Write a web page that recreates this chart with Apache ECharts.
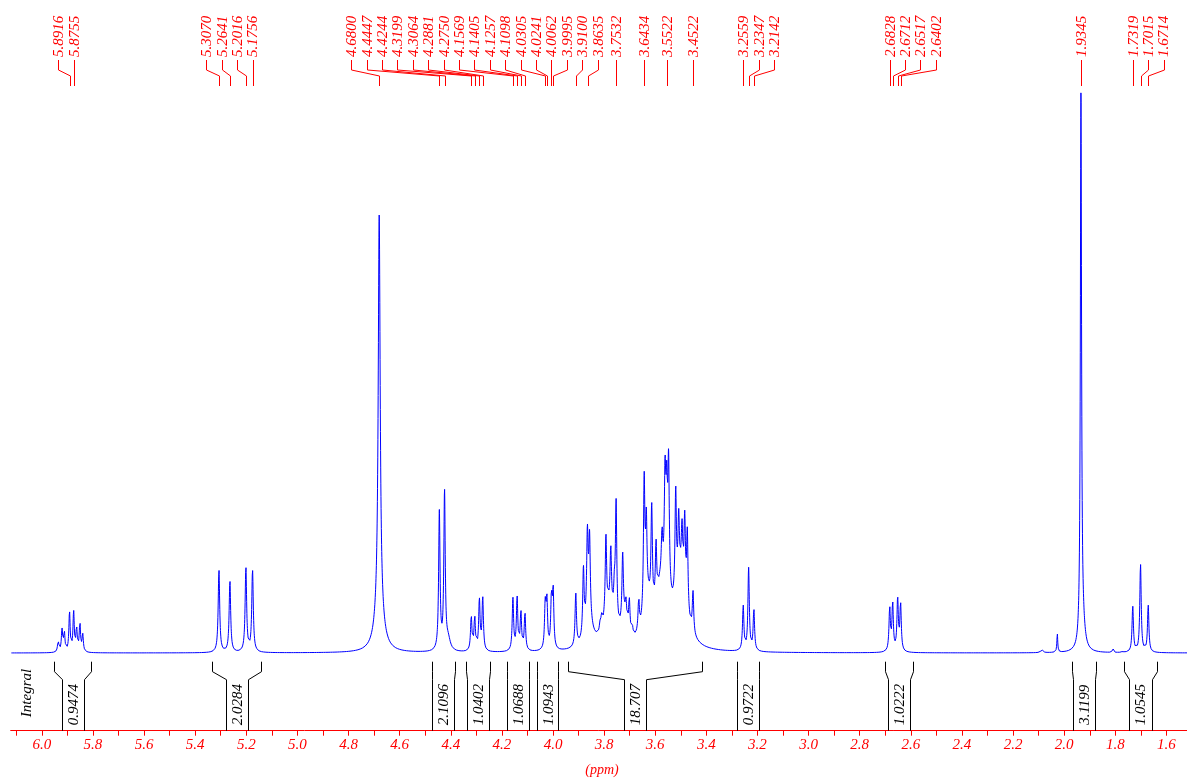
<!DOCTYPE html>
<html>
<head>
<meta charset="utf-8">
<script src="https://cdn.jsdelivr.net/npm/echarts@6.0.0/dist/echarts.min.js"></script>
<style>
html,body{margin:0;padding:0;background:#fff;}
#chart{width:1187px;height:778px;}
</style>
</head>
<body>
<div id="chart"></div>
<script>
// ---------------- data ----------------
// labelled peak positions (ppm)
const labelPpm = [5.8916,5.8755,5.3070,5.2641,5.2016,5.1756,4.6800,4.4447,4.4244,4.3199,4.3064,4.2881,4.2750,
  4.1569,4.1405,4.1257,4.1098,4.0305,4.0241,4.0062,3.9995,3.9100,3.8635,3.7532,3.6434,3.5522,3.4522,
  3.2559,3.2347,3.2142,2.6828,2.6712,2.6517,2.6402,1.9345,1.7319,1.7015,1.6714];

// resolved lines: position (ppm), observed top (% of tallest), line width (ppm)
const peakPpm = [
  5.936,5.921,5.912,5.8916,5.8755,5.864,5.851,5.840,
  5.3070,5.2641,5.2016,5.1756,
  4.6800,
  4.4447,4.4244,
  4.3199,4.3064,4.2881,4.2750,
  4.1569,4.1405,4.1257,4.1098,
  4.0305,4.0241,4.0062,3.9995,
  3.911,3.881,3.8655,3.857,3.816,3.810,3.793,3.774,3.760,3.7532,3.7275,3.7145,3.7015,3.690,
  3.6647,3.6434,3.635,3.6139,3.597,3.5735,3.5617,3.5552,3.5478,3.520,3.5083,3.4953,3.4847,3.4746,3.4523,
  3.2559,3.2347,3.2142,
  2.6828,2.6712,2.6517,2.6402,
  2.088,2.027,
  1.9345,
  1.810,1.771,
  1.7319,1.7015,1.6714
];
const peakTop = [
  2.3,4.5,4.2,7.5,7.7,5.0,5.7,3.6,
  14.9,13.0,15.5,15.0,
  78.1,
  25.6,29.4,
  6.8,6.9,10.0,10.2,
  10.0,10.3,7.8,7.4,
  10.0,10.9,11.5,12.4,
  10.8,15.7,23.0,22.0,5.9,7.2,21.3,19.3,15.0,27.6,18.1,10.0,10.0,5.3,
  10.0,32.4,26.0,27.0,20.4,22.8,35.3,34.4,36.3,29.9,25.8,24.0,25.5,22.5,11.2,
  8.6,15.3,8.0,
  8.5,9.4,10.2,9.3,
  0.6,3.5,
  100,
  1.0,0.5,
  8.4,16.0,8.6
];
const peakWidth = [
  0.006,0.006,0.006,0.006,0.006,0.006,0.006,0.006,
  0.007,0.007,0.007,0.007,
  0.009,
  0.0065,0.0065,
  0.0065,0.0065,0.0065,0.0065,
  0.0065,0.0065,0.0065,0.0065,
  0.0065,0.0065,0.0065,0.0065,
  0.0065,0.0065,0.007,0.007,0.0065,0.0065,0.0065,0.0065,0.0065,0.0065,0.0065,0.0065,0.0065,0.0065,
  0.0065,0.0065,0.0065,0.0065,0.0065,0.0065,0.0065,0.0065,0.0065,0.0065,0.0065,0.0065,0.0065,0.0065,0.0065,
  0.0065,0.0065,0.0065,
  0.0065,0.0065,0.0065,0.0065,
  0.01,0.004,
  0.0055,
  0.004,0.004,
  0.0065,0.0065,0.0065
];
// unresolved broad humps under the lines
const humpPpm   = [4.680, 1.928, 4.410, 3.860, 3.780, 3.720, 3.630, 3.580, 3.555, 3.500];
const humpTop   = [8,     4,     2,     4,     7,     4,     7,     8,     8,     12];
const humpWidth = [0.035, 0.02,  0.02,  0.04,  0.05,  0.03,  0.04,  0.04,  0.03,  0.05];

// integral regions
const integralFrom = [5.951,5.333,4.474,4.341,4.181,4.062,3.941,3.280,2.700,1.971,1.766];
const integralTo   = [5.806,5.142,4.385,4.248,4.095,3.979,3.419,3.193,2.592,1.876,1.637];
const integralText = ['0.9474','2.0284','2.1096','1.0402','1.0688','1.0943','18.707','0.9722','1.0222','3.1199','1.0545'];

// axis ticks
const tickValues = [1.6,1.7,1.8,1.9,2.0,2.1,2.2,2.3,2.4,2.5,2.6,2.7,2.8,2.9,3.0,3.1,3.2,3.3,3.4,3.5,3.6,3.7,3.8,3.9,
  4.0,4.1,4.2,4.3,4.4,4.5,4.6,4.7,4.8,4.9,5.0,5.1,5.2,5.3,5.4,5.5,5.6,5.7,5.8,5.9,6.0,6.1];
const tickLabelValues = [1.6,1.8,2.0,2.2,2.4,2.6,2.8,3.0,3.2,3.4,3.6,3.8,4.0,4.2,4.4,4.6,4.8,5.0,5.2,5.4,5.6,5.8,6.0];

// ---------------- layout ----------------
const X_MIN = 1.5196, X_MAX = 6.1217;
const Y_MIN = -13.85, Y_MAX = 100;
const RED = '#ff0000', BLUE = '#0000ff';
const FONT = 'Liberation Serif';

// ---------------- line shape ----------------
function lor(x, c, w) { const d = 2 * (x - c) / w; return 1 / (1 + d * d); }
const amp = peakTop.slice();
for (let it = 0; it < 100; it++) {
  for (let i = 0; i < peakPpm.length; i++) {
    let s = 0;
    for (let k = 0; k < humpPpm.length; k++) s += humpTop[k] * lor(peakPpm[i], humpPpm[k], humpWidth[k]);
    for (let j = 0; j < peakPpm.length; j++) if (j !== i) s += amp[j] * lor(peakPpm[i], peakPpm[j], peakWidth[j]);
    amp[i] = Math.max(0, peakTop[i] - s);
  }
}
const spectrum = [];
const STEP = 0.0005;
const N = Math.round((X_MAX - X_MIN) / STEP);
for (let n = 0; n <= N; n++) {
  const x = X_MIN + n * STEP;
  let y = 0;
  for (let k = 0; k < humpPpm.length; k++) y += humpTop[k] * lor(x, humpPpm[k], humpWidth[k]);
  for (let j = 0; j < peakPpm.length; j++) y += amp[j] * lor(x, peakPpm[j], peakWidth[j]);
  spectrum.push([x, y]);
}

// ---------------- renderers ----------------
const GAP = 15.4;
function renderLabels(params, api) {
  const xs = labelPpm.map(p => api.coord([p, 0])[0]);
  const n = xs.length, pv = Math.floor(n / 2);
  const lx = xs.slice();
  for (let i = pv - 1; i >= 0; i--) lx[i] = Math.min(xs[i], lx[i + 1] - GAP);
  for (let i = pv + 1; i < n; i++) lx[i] = Math.max(xs[i], lx[i - 1] + GAP);
  const children = [];
  for (let i = 0; i < n; i++) {
    const a = Math.round(lx[i]) + 0.5, b = Math.round(xs[i]) + 0.5;
    children.push({
      type: 'polyline',
      shape: { points: [[a, 60], [a, 70], [b, 76], [b, 86]] },
      style: { stroke: RED, lineWidth: 1, fill: null }
    });
    children.push({
      type: 'text', x: lx[i] + 1, y: 57, rotation: Math.PI / 2,
      style: { text: labelPpm[i].toFixed(4), fill: RED, fontStyle: 'italic', fontSize: 15, fontFamily: FONT,
               align: 'left', verticalAlign: 'middle', textAlign: 'left', textVerticalAlign: 'middle' }
    });
  }
  return { type: 'group', children };
}
function renderIntegral(params, api) {
  const i = api.value(3);
  const x1 = api.coord([api.value(0), 0])[0];
  const x2 = api.coord([api.value(2), 0])[0];
  const base = api.coord([X_MIN, Y_MIN])[1];
  const c = (x1 + x2) / 2, h = 11.2;
  const il = Math.max(x1, c - h), ir = Math.min(x2, c + h);
  const r = v => Math.round(v) + 0.5;
  const top = base - 69, mid1 = base - 59, mid2 = base - 51;
  return {
    type: 'group', children: [
      { type: 'polyline', shape: { points: [[r(x1), top], [r(x1), mid1], [r(il), mid2], [r(il), base]] },
        style: { stroke: '#000', lineWidth: 1, fill: null } },
      { type: 'polyline', shape: { points: [[r(x2), top], [r(x2), mid1], [r(ir), mid2], [r(ir), base]] },
        style: { stroke: '#000', lineWidth: 1, fill: null } },
      { type: 'text', x: c + 1, y: base - 26, rotation: Math.PI / 2,
        style: { text: integralText[i], fill: '#000', fontStyle: 'italic', fontSize: 15, fontFamily: FONT,
                 align: 'center', verticalAlign: 'middle', textAlign: 'center', textVerticalAlign: 'middle' } }
    ]
  };
}

const chart = echarts.init(document.getElementById('chart'), null, { renderer: 'canvas' });
chart.setOption({
  animation: false,
  backgroundColor: '#fff',
  grid: { left: 10.7, right: 0, top: 92, bottom: 47.3 },
  xAxis: {
    type: 'value', min: X_MIN, max: X_MAX, inverse: true,
    splitLine: { show: false },
    axisLine: { onZero: false, lineStyle: { color: RED, width: 1 } },
    axisTick: { length: 5, lineStyle: { color: RED, width: 1 }, customValues: tickValues },
    axisLabel: { customValues: tickLabelValues, color: RED, fontStyle: 'italic', fontFamily: FONT, fontSize: 15,
                 margin: 7, formatter: v => Number(v).toFixed(1) }
  },
  yAxis: { type: 'value', min: Y_MIN, max: Y_MAX, show: false, splitLine: { show: false } },
  series: [
    { type: 'line', data: spectrum, showSymbol: false, symbol: 'none', sampling: null, silent: true,
      lineStyle: { color: BLUE, width: 1 }, z: 2 },
    { type: 'custom', coordinateSystem: 'cartesian2d', renderItem: renderIntegral, silent: true, clip: false,
      encode: { x: [0, 2], y: 1 },
      data: integralFrom.map((f, i) => [f, 0, integralTo[i], i]) },
    { type: 'custom', coordinateSystem: 'cartesian2d', renderItem: renderLabels, silent: true, clip: false,
      encode: { x: 0, y: 1 }, data: [[labelPpm[0], 0]] }
  ],
  graphic: [
    { type: 'text', x: 27.5, y: 693, rotation: Math.PI / 2,
      style: { text: 'Integral', fill: '#000', fontStyle: 'italic', fontSize: 15, fontFamily: FONT,
               align: 'center', verticalAlign: 'middle', textAlign: 'center', textVerticalAlign: 'middle' } },
    { type: 'text', x: 602, y: 770,
      style: { text: '(ppm)', fill: RED, fontStyle: 'italic', fontSize: 14, fontFamily: FONT,
               align: 'center', verticalAlign: 'middle', textAlign: 'center', textVerticalAlign: 'middle' } }
  ]
});
</script>
</body>
</html>
